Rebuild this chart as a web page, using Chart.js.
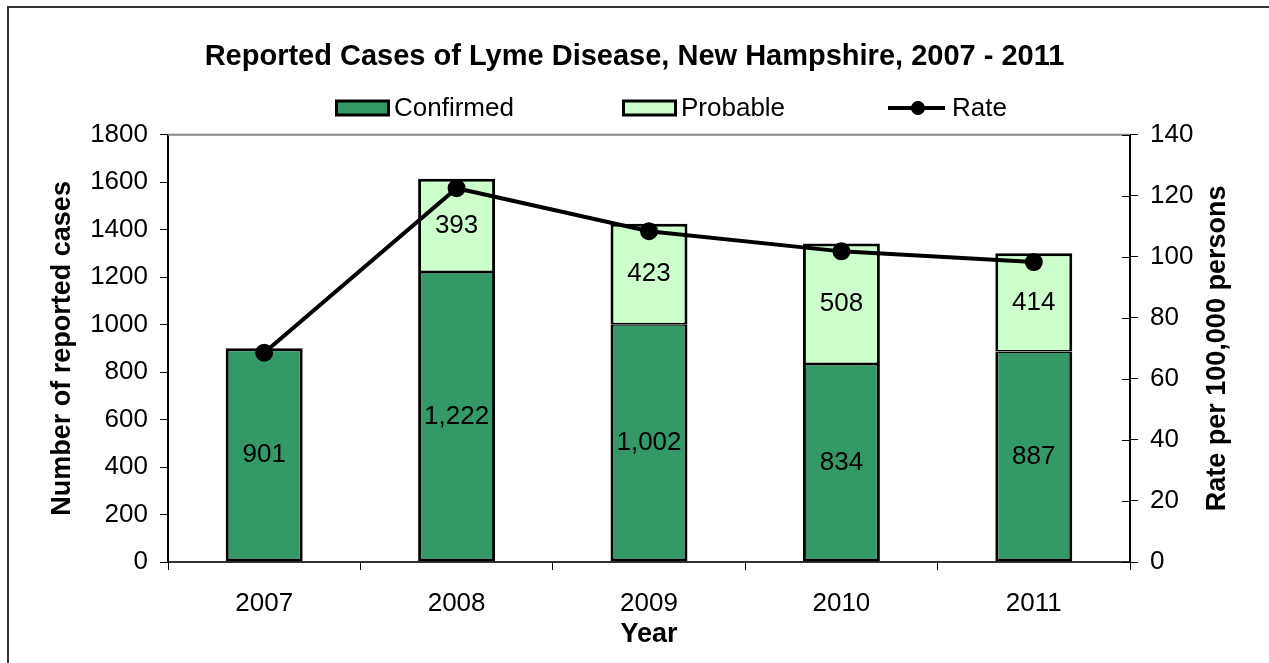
<!DOCTYPE html>
<html>
<head>
<meta charset="utf-8">
<title>Reported Cases of Lyme Disease, New Hampshire, 2007 - 2011</title>
<script src="https://cdn.jsdelivr.net/npm/chart.js@4.4.0/dist/chart.umd.min.js"></script>
<style>
  body { margin: 0; background: #fff; }
  #wrap { position: relative; width: 1269px; height: 663px; overflow: hidden; }
  #frame { position: absolute; left: 7px; top: 6px; width: 1300px; height: 700px;
           border-left: 2px solid #333; border-top: 2px solid #333; }
  #myChart { position: absolute; left: 0; top: 0; }
</style>
</head>
<body>
<div id="wrap">
  <div id="frame"></div>
  <canvas id="myChart" width="1269" height="663"></canvas>
</div>
<script>
const years = ['2007', '2008', '2009', '2010', '2011'];
const confirmed = [901, 1222, 1002, 834, 887];
const probable = [null, 393, 423, 508, 414];
const rate = [68.6, 122.5, 108.4, 101.8, 98.3];

const FONT = '"Liberation Sans", Arial, sans-serif';
Chart.defaults.font.family = FONT;
Chart.defaults.color = '#000';

// numbers in the middle of each bar segment
const barLabels = {
  id: 'barLabels',
  afterDatasetsDraw(chart) {
    const ctx = chart.ctx;
    ctx.save();
    ctx.font = '26px ' + FONT;
    ctx.fillStyle = '#000';
    ctx.textAlign = 'center';
    ctx.textBaseline = 'middle';
    chart.data.datasets.forEach((ds, i) => {
      if (ds.type !== 'bar') return;
      chart.getDatasetMeta(i).data.forEach((bar, j) => {
        const v = ds.data[j];
        if (!v) return;
        ctx.fillText(v.toLocaleString('en-US'), bar.x, (bar.y + bar.base) / 2);
      });
    });
    ctx.restore();
  }
};

// gray top edge of the plot, inner ticks on the right axis, right axis title
const frame = {
  id: 'frame',
  afterDraw(chart) {
    const ctx = chart.ctx;
    const a = chart.chartArea;
    const y1 = chart.scales.y1;
    ctx.save();
    ctx.strokeStyle = '#888';
    ctx.lineWidth = 2;
    ctx.beginPath();
    ctx.moveTo(a.left, a.top);
    ctx.lineTo(a.right, a.top);
    ctx.stroke();

    ctx.strokeStyle = '#000';
    ctx.lineWidth = 1;
    y1.ticks.forEach(t => {
      const py = Math.round(y1.getPixelForValue(t.value)) + 0.5;
      ctx.beginPath();
      ctx.moveTo(a.right - 8, py);
      ctx.lineTo(a.right, py);
      ctx.stroke();
    });

    ctx.translate(1218, (a.top + a.bottom) / 2);
    ctx.rotate(-Math.PI / 2);
    ctx.font = 'bold 27px ' + FONT;
    ctx.fillStyle = '#000';
    ctx.textAlign = 'center';
    ctx.textBaseline = 'middle';
    ctx.fillText('Rate per 100,000 persons', 0, 0);
    ctx.restore();
  }
};

// legend drawn like the spreadsheet one
const legendRow = {
  id: 'legendRow',
  afterDraw(chart) {
    const ctx = chart.ctx;
    const ds = chart.data.datasets;
    const y = 108;
    const startX = [335, 622, 888];
    ctx.save();
    ctx.font = '26px ' + FONT;
    ctx.textBaseline = 'middle';
    ds.forEach((d, i) => {
      const x = startX[i];
      let tx;
      if (d.type === 'bar') {
        ctx.fillStyle = d.backgroundColor;
        ctx.fillRect(x + 1.5, y - 7, 52, 14);
        ctx.strokeStyle = '#000';
        ctx.lineWidth = 3;
        ctx.strokeRect(x + 1.5, y - 7, 52, 14);
        tx = x + 59;
      } else {
        ctx.strokeStyle = d.borderColor;
        ctx.lineWidth = 4;
        ctx.beginPath();
        ctx.moveTo(x, y);
        ctx.lineTo(x + 57, y);
        ctx.stroke();
        ctx.fillStyle = d.pointBackgroundColor;
        ctx.beginPath();
        ctx.arc(x + 30, y, 7, 0, Math.PI * 2);
        ctx.fill();
        tx = x + 64;
      }
      ctx.fillStyle = '#000';
      ctx.fillText(d.label, tx, y + 1);
    });
    ctx.restore();
  }
};

const plain = v => String(v);

new Chart(document.getElementById('myChart'), {
  data: {
    labels: years,
    datasets: [
      {
        type: 'bar',
        label: 'Confirmed',
        data: confirmed,
        backgroundColor: '#339966',
        borderColor: '#000',
        borderWidth: c => ({ left: 3, right: 3, bottom: 3, top: probable[c.dataIndex] ? 1.5 : 3 }),
        borderSkipped: false,
        categoryPercentage: 0.4,
        barPercentage: 1,
        yAxisID: 'y',
        order: 1
      },
      {
        type: 'bar',
        label: 'Probable',
        data: probable,
        backgroundColor: '#CCFFCC',
        borderColor: '#000',
        borderWidth: { left: 3, right: 3, top: 3, bottom: 1.5 },
        borderSkipped: false,
        categoryPercentage: 0.4,
        barPercentage: 1,
        yAxisID: 'y',
        order: 1
      },
      {
        type: 'line',
        label: 'Rate',
        data: rate,
        borderColor: '#000',
        borderWidth: 4,
        pointRadius: 7,
        pointBackgroundColor: '#000',
        pointBorderColor: '#000',
        tension: 0,
        yAxisID: 'y1',
        order: 0
      }
    ]
  },
  options: {
    responsive: false,
    animation: false,
    layout: { padding: 0 },
    plugins: {
      legend: { display: false },
      tooltip: { enabled: false },
      title: {
        display: true,
        text: 'Reported Cases of Lyme Disease, New Hampshire, 2007 - 2011',
        font: { size: 29, weight: 'bold' },
        color: '#000',
        padding: { top: 40, bottom: 60 }
      }
    },
    scales: {
      x: {
        stacked: true,
        offset: true,
        grid: { drawOnChartArea: false, offset: true, tickLength: 8, color: '#000' },
        border: { color: '#333', width: 2 },
        ticks: { font: { size: 26 }, padding: 18, color: '#000' },
        title: {
          display: true,
          text: 'Year',
          font: { size: 27, weight: 'bold' },
          padding: { top: 0, bottom: 12 }
        },
        afterFit: s => { s.height = 101; }
      },
      y: {
        stacked: true,
        position: 'left',
        min: 0,
        max: 1800,
        ticks: { stepSize: 200, font: { size: 26 }, padding: 12, color: '#000', callback: plain },
        grid: { drawOnChartArea: false, tickLength: 8, color: '#000' },
        border: { color: '#000', width: 2 },
        title: {
          display: true,
          text: 'Number of reported cases',
          font: { size: 27, weight: 'bold' },
          padding: { top: 46, bottom: 0 }
        },
        afterFit: s => { s.width = 168; }
      },
      y1: {
        stacked: false,
        position: 'right',
        min: 0,
        max: 140,
        ticks: { stepSize: 20, font: { size: 26 }, padding: 12, color: '#000', callback: plain },
        grid: { drawOnChartArea: false, tickLength: 8, color: '#000' },
        border: { color: '#000', width: 2 },
        afterFit: s => { s.width = 139; }
      }
    }
  },
  plugins: [barLabels, frame, legendRow]
});
</script>
</body>
</html>
